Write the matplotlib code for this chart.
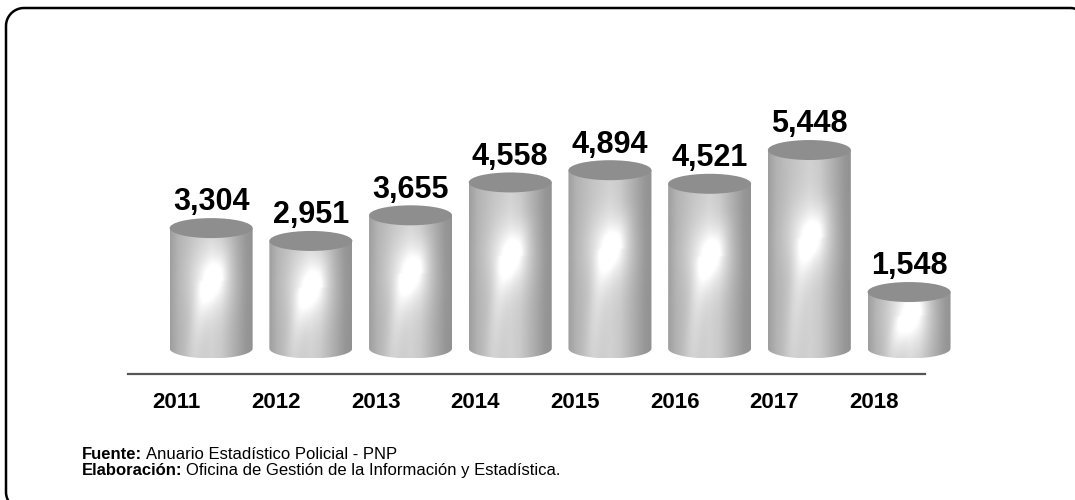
import numpy as np
import matplotlib
matplotlib.use("Agg")
import matplotlib.pyplot as plt
from matplotlib.patches import PathPatch, Polygon, Ellipse
from matplotlib.path import Path
from matplotlib.transforms import ScaledTranslation

plt.rcParams['font.family'] = ['Liberation Sans', 'DejaVu Sans']

years = ["2011", "2012", "2013", "2014", "2015", "2016", "2017", "2018"]
values = [3304, 2951, 3655, 4558, 4894, 4521, 5448, 1548]
source_label = "Fuente:"
source_text = "Anuario Estadístico Policial - PNP"
elab_label = "Elaboración:"
elab_text = "Oficina de Gestión de la Información y Estadística."

W, H = 1075, 500
fig = plt.figure(figsize=(W / 100, H / 100), dpi=100)

# background axes in pixel units for the rounded frame
bg = fig.add_axes([0, 0, 1, 1])
bg.set_xlim(0, W)
bg.set_ylim(H, 0)
bg.axis('off')
fx0, fy0, fx1, fy1, r = 6, 8, 1088, 510, 18
th = np.linspace(0, np.pi / 2, 20)
pts = []
pts += list(zip(fx0 + r - r * np.cos(th), fy0 + r - r * np.sin(th)))
pts += list(zip(fx1 - r + r * np.sin(th), fy0 + r - r * np.cos(th)))
pts += list(zip(fx1 - r + r * np.cos(th), fy1 - r + r * np.sin(th)))
pts += list(zip(fx0 + r - r * np.sin(th), fy1 - r + r * np.cos(th)))
pts.append(pts[0])
frame = PathPatch(Path(np.array(pts)), fill=False, edgecolor='black', linewidth=1.8,
                  clip_on=False)
bg.add_patch(frame)

# chart axes
ax_left, ax_right = 128, 1000
axis_line_end = 925
ax_top, ax_bottom = 40, 374
ax = fig.add_axes([ax_left / W, 1 - ax_bottom / H, (ax_right - ax_left) / W, (ax_bottom - ax_top) / H])
ax.patch.set_alpha(0)
px_per_x = 99.7
xmin = -0.834
xmax = xmin + (ax_right - ax_left) / px_per_x
ymin, ymax = -703, 8470
ax.set_xlim(xmin, xmax)
ax.set_ylim(ymin, ymax)

px_per_y = (ax_bottom - ax_top) / (ymax - ymin)

bw = 83 / px_per_x          # bar width in data units
ry = 10 / px_per_y          # ellipse semi-height in data units

x = np.arange(len(years))

# shading
nu, nv = 120, 300
u = np.linspace(0, 1, nu)
prof_u = np.array([0.0, 0.1, 0.3, 0.5, 0.62, 0.8, 0.92, 1.0])
prof_g = np.array([0.62, 0.70, 0.77, 0.82, 0.79, 0.67, 0.59, 0.57])
base = np.interp(u, prof_u, prof_g)

for xi, v in zip(x, values):
    x0, x1 = xi - bw / 2, xi + bw / 2
    t = np.linspace(np.pi, 2 * np.pi, 60)
    bottom = np.column_stack([xi + bw / 2 * np.cos(t), ry * np.sin(t)])
    verts = np.vstack([[x0, v], bottom, [x1, v], [x0, v]])
    body = Polygon(verts, closed=True, facecolor='none', edgecolor='none', clip_on=False)
    ax.add_patch(body)

    yy = np.linspace(-ry, v + ry, nv)
    py = (yy + ry) * px_per_y
    hpx = (v + 2 * ry) * px_per_y
    U, P = np.meshgrid(u, py)
    pc = 0.55 * hpx
    img = np.tile(base, (nv, 1))
    blob = 0.17 * np.exp(-((U - 0.5) / 0.26) ** 2 - ((P - pc) / 34) ** 2)
    core = 0.07 * np.exp(-((U - 0.52) / 0.14) ** 2 - ((P - pc) / 16) ** 2)
    frac = np.clip((pc - P) / max(pc, 1), 0, 1)
    arc_u = 0.5 - 0.22 * np.sqrt(frac)
    arc = 0.11 * np.exp(-((U - arc_u) / 0.1) ** 2) * (P < pc) * (1 - 0.5 * frac)
    fr2 = np.clip((P - pc) / 45, 0, 1)
    arc2_u = 0.55 + 0.18 * fr2
    arc2 = 0.07 * np.exp(-((U - arc2_u) / 0.12) ** 2) * (P >= pc) * (1 - fr2)
    img = np.clip(img + blob + core + arc + arc2, 0, 1)
    im = ax.imshow(img, extent=(x0, x1, -ry, v + ry), origin='lower', aspect='auto',
                   cmap='gray', vmin=0, vmax=1, interpolation='bilinear', zorder=2)
    im.set_clip_path(body)

    top = Ellipse((xi, v), bw, 2 * ry, facecolor='#8e8e8e', edgecolor='none', zorder=3,
                  clip_on=False)
    ax.add_patch(top)

    ax.annotate(f"{v:,}", (xi, v + ry), xytext=(0, 5.5), textcoords='offset points',
                ha='center', va='baseline', fontsize=22, fontweight='bold', color='black',
                zorder=4, annotation_clip=False)

ax.set_xlim(xmin, xmax)
ax.set_ylim(ymin, ymax)

for s in ['top', 'right', 'left']:
    ax.spines[s].set_visible(False)
ax.spines['bottom'].set_color('#555555')
ax.spines['bottom'].set_linewidth(1.6)
ax.spines['bottom'].set_bounds(xmin, xmin + (axis_line_end - ax_left) / px_per_x)
ax.set_yticks([])
ax.set_xticks(x)
ax.set_xticklabels(years, fontsize=16, fontweight='bold')
ax.tick_params(axis='x', length=0, pad=13)
shift = ScaledTranslation(-35 / 100, 0, fig.dpi_scale_trans)
for lbl in ax.get_xticklabels():
    lbl.set_transform(lbl.get_transform() + shift)

# footnotes
fig.canvas.draw()
renderer = fig.canvas.get_renderer()
fx = 82 / W
for lab, txt, ypx in [(source_label, source_text, 459), (elab_label, elab_text, 475)]:
    t1 = fig.text(fx, 1 - ypx / H, lab, fontsize=12, fontweight='bold', va='baseline', ha='left')
    bb = t1.get_window_extent(renderer)
    fig.text(bb.x1 / W + 4 / W, 1 - ypx / H, txt, fontsize=12, va='baseline', ha='left')

fig.savefig("out.png", dpi=100, facecolor='white')
